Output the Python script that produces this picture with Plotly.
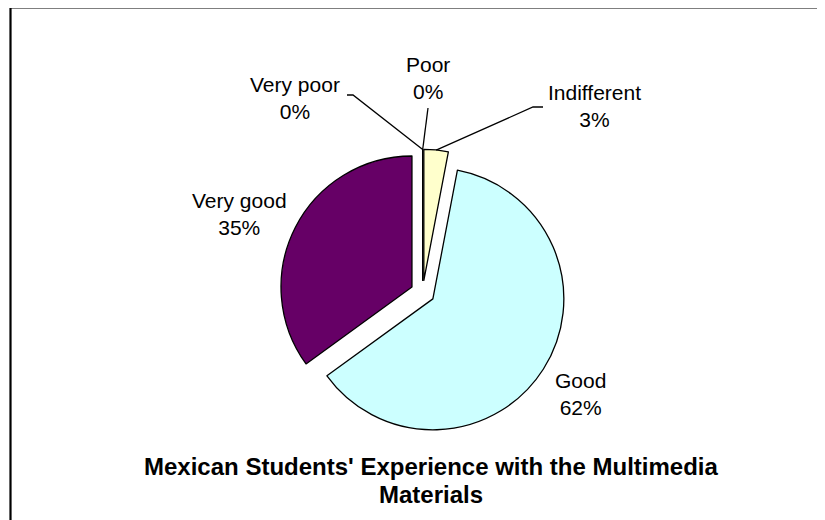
import math
import plotly.graph_objects as go

# ---- data ----
categories = ["Very poor", "Poor", "Indifferent", "Good", "Very good"]
percent_values = [0, 0, 3, 62, 35]
slice_colors = ["#9999FF", "#993366", "#FFFFCC", "#CCFFFF", "#660066"]
title_lines = ["Mexican Students' Experience with the Multimedia", "Materials"]

# ---- layout constants (pixels as seen in the page, figure is 825x520, zero margins) ----
W, H = 825, 520
OFF = 8                     # page body margin offset
CX, CY = 422.7, 292.4       # pie centre
R_OUT = 143.0               # radius incl. pull
PULL = 0.092
FONT = "Liberation Sans, Arial, sans-serif"

# label text centres (pixels) and leader line elbows
label_pos = {
    "Very poor": (295, 98),
    "Poor": (428, 78),
    "Indifferent": (594, 106),
    "Good": (580, 394),
    "Very good": (240, 214),
}
leader_start = {
    "Very poor": [(347, 95), (353, 95)],
    "Poor": [(428, 108)],
    "Indifferent": [(543, 107), (533, 107)],
}


def px(x):
    return (x - OFF) / W


def py(y):
    return 1 - (y - OFF) / H


fig = go.Figure()
fig.add_trace(go.Pie(
    labels=categories,
    values=percent_values,
    sort=False,
    direction="clockwise",
    rotation=0,
    pull=[PULL] * len(categories),
    marker=dict(colors=slice_colors, line=dict(color="#000000", width=1.3)),
    textinfo="none",
    hoverinfo="label+percent",
    showlegend=False,
    domain=dict(x=[px(CX - R_OUT), px(CX + R_OUT)], y=[py(CY + R_OUT), py(CY - R_OUT)]),
))

# compute slice anchor points from the data
total = sum(percent_values)
r_in = R_OUT / (1 + PULL)
d = r_in * PULL
anchors = {}
cum = 0.0
for lab, v in zip(categories, percent_values):
    mid = (cum + v / 2) / total * 2 * math.pi
    ux, uy = math.sin(mid), -math.cos(mid)
    anchors[lab] = (CX + ux * (d + r_in), CY + uy * (d + r_in))
    cum += v

annotations = []
for lab, v in zip(categories, percent_values):
    x, y = label_pos[lab]
    annotations.append(dict(
        x=px(x), y=py(y), xref="paper", yref="paper",
        text=f"{lab}<br>{round(v / total * 100)}%",
        showarrow=False, xanchor="center", yanchor="middle",
        font=dict(family=FONT, size=21, color="#000000"),
    ))

shapes = []
for lab, pts in leader_start.items():
    allpts = pts + [anchors[lab]]
    path = "M " + " L ".join(f"{px(a)},{py(b)}" for a, b in allpts)
    shapes.append(dict(type="path", xref="paper", yref="paper", path=path,
                       line=dict(color="#000000", width=1.3)))

# chart border
shapes.append(dict(type="rect", xref="paper", yref="paper",
                   x0=px(10.5), y0=py(H + 30), x1=px(W + 30), y1=py(7.5),
                   line=dict(color="#000000", width=2.2), fillcolor="rgba(0,0,0,0)"))

title_y = [466, 494]
for t, yy in zip(title_lines, title_y):
    annotations.append(dict(
        x=px(431), y=py(yy), xref="paper", yref="paper",
        text=f"<b>{t}</b>", showarrow=False, xanchor="center", yanchor="middle",
        font=dict(family=FONT, size=24, color="#000000"),
    ))

fig.update_layout(
    width=W, height=H,
    margin=dict(l=0, r=0, t=0, b=0),
    paper_bgcolor="#FFFFFF", plot_bgcolor="#FFFFFF",
    annotations=annotations, shapes=shapes,
)

fig.write_html("out.html")
